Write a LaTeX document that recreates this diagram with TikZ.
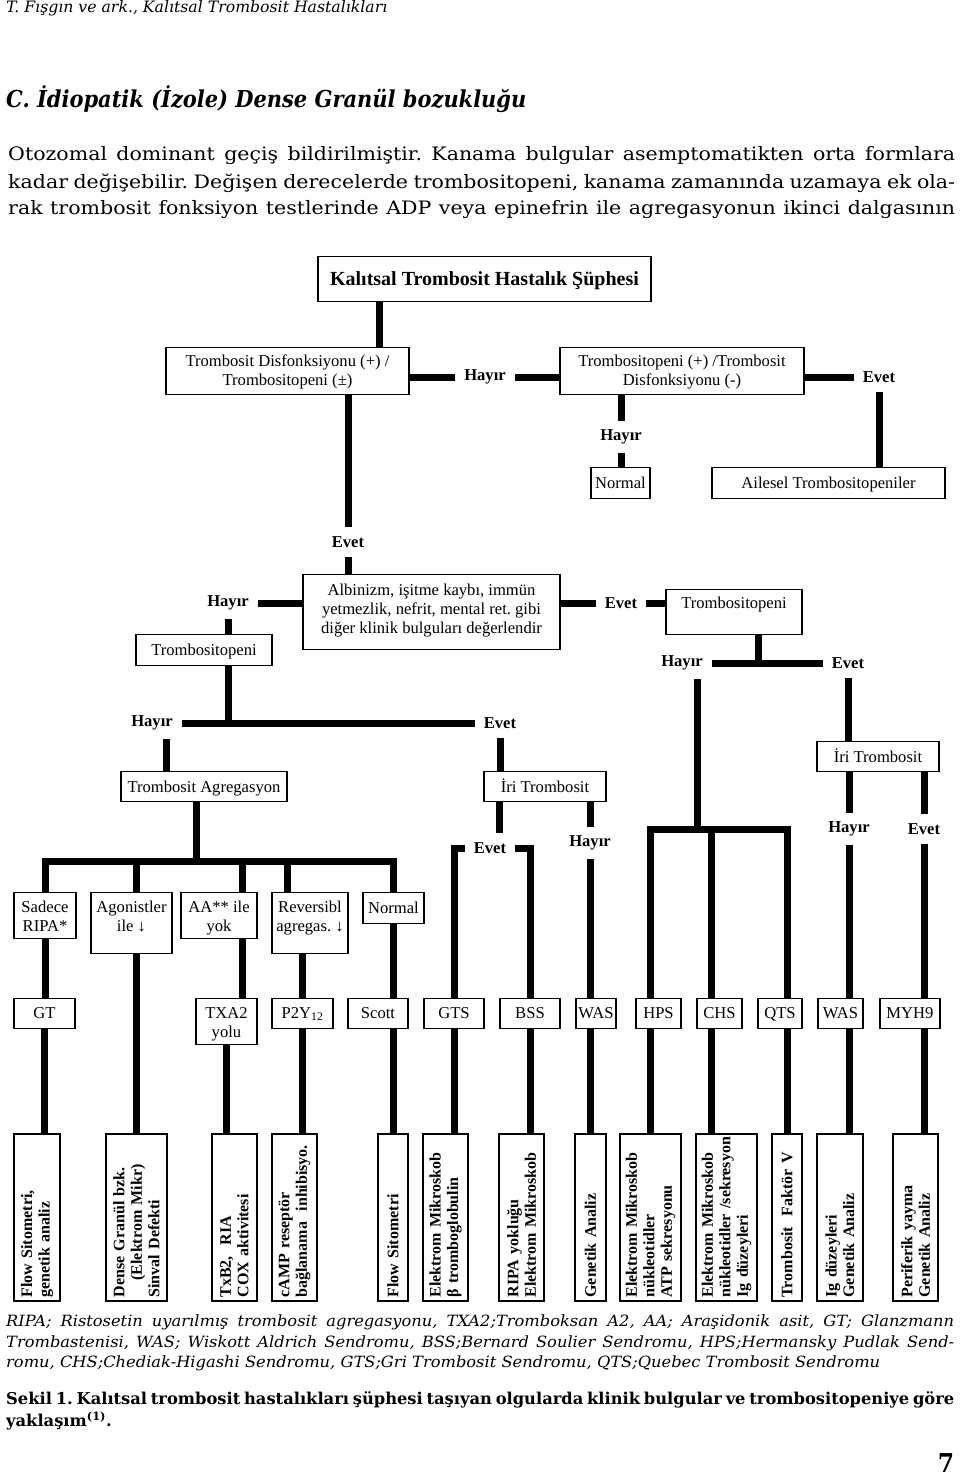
\documentclass[tikz,border=0pt]{standalone}
\usepackage{fontspec}
\setmainfont{Liberation Serif}
\newfontfamily\slab{DejaVu Serif}
\newfontfamily\slabwide{DejaVu Serif}[FakeStretch=1.11]
\newfontfamily\slabnote{DejaVu Serif}[FakeStretch=1.05]
\newfontfamily\slabhead{DejaVu Serif}[FakeStretch=0.9]
\usetikzlibrary{positioning}
\frenchspacing

\newcommand{\boxfont}{\fontsize{16.6}{19.5}\selectfont}
\newcommand{\testfont}{\fontsize{16}{17.5}\selectfont\bfseries}

\begin{document}
\begin{tikzpicture}[
    x=1pt, y=-1pt,
    box/.style={draw, line width=1.2pt, font=\boxfont, inner xsep=2pt, inner ysep=0pt, align=center, anchor=north},
    testbox/.style={draw, line width=1.2pt, font=\testfont, rotate=90, align=left, text width=160pt, minimum width=167pt, inner xsep=3.5pt, inner ysep=0pt},
    answer/.style={font=\boxfont\bfseries, inner sep=9pt},
    bar/.style={line width=7pt},
    textline/.style={anchor=west, inner sep=0pt}
]

% Page
\path[fill=white] (0,0) rectangle (960,1476);

% Running head, heading and paragraph
\node[textline, font=\slab\itshape\fontsize{15.7}{18}\selectfont] (runhead) at (6,8) {T. Fışgın ve ark., Kalıtsal Trombosit Hastalıkları};
\node[textline, font=\slabhead\bfseries\itshape\fontsize{23.3}{28}\selectfont] (title) at (6,99) {C. İdiopatik (İzole) Dense Granül bozukluğu};
\node[textline, font=\slabwide\fontsize{18.5}{27}\selectfont] (para1) at (8,156) {\makebox[947pt][s]{Otozomal dominant geçiş bildirilmiştir. Kanama bulgular asemptomatikten orta formlara}};
\node[textline, font=\slabwide\fontsize{18.5}{27}\selectfont] (para2) at (8,183) {\makebox[947pt][s]{kadar değişebilir. Değişen derecelerde trombositopeni, kanama zamanında uzamaya ek ola-}};
\node[textline, font=\slabwide\fontsize{18.5}{27}\selectfont] (para3) at (8,210) {\makebox[947pt][s]{rak trombosit fonksiyon testlerinde ADP veya epinefrin ile agregasyonun ikinci dalgasının}};

% Column coordinates for the connectors
\coordinate (stem0) at (379,0);
\coordinate (stem1) at (758,0);
\coordinate (stem3) at (166,0);
\coordinate (tpbar) at (697,829);
\coordinate (chsline) at (711,829);
\coordinate (aggbar) at (196,861);
\coordinate (aaline) at (242,861);
\coordinate (revline) at (287,861);
\coordinate (irileft) at (499,0);

% First question
\node[box, font=\fontsize{20}{24}\selectfont\bfseries, minimum width=333pt, text height=28.5pt, text depth=16.5pt] (susp) at (484.5,256) {Kalıtsal Trombosit Hastalık Şüphesi};
\node[box, minimum width=243pt, text height=38pt, text depth=9pt] (dysf) at (287.5,347) {Trombosit Disfonksiyonu (+) /\\Trombositopeni (±)};
\node[box, minimum width=244pt, text height=38pt, text depth=9pt] (tpen) at (682,347) {Trombositopeni (+) /Trombosit\\Disfonksiyonu (-)};
\node[answer] (no1) at (485,377) {Hayır};
\node[answer] (yes1) at (879,377) {Evet};
\node[answer] (no2) at (621,437) {Hayır};
\node[box, minimum width=59pt, text height=20.5pt, text depth=10.5pt] (normal1) at (620.5,467) {Normal};
\node[box, minimum width=233pt, text height=20.5pt, text depth=10.5pt] (famil) at (828.5,467) {Ailesel Trombositopeniler};

% Clinical findings
\node[answer] (yes2) at (348,542) {Evet};
\node[box, font=\fontsize{16.6}{19}\selectfont, minimum width=257pt, text height=58.5pt, text depth=16.5pt] (clin) at (431.5,574) {Albinizm, işitme kaybı, immün\\yetmezlik, nefrit, mental ret. gibi\\diğer klinik bulguları değerlendir};
\node[answer] (no3) at (228,603) {Hayır};
\node[box, minimum width=136pt, text height=21pt, text depth=10pt] (tp2) at (204,634) {Trombositopeni};
\node[answer] (yes3) at (621,603) {Evet};
\node[box, minimum width=136pt, text height=18.5pt, text depth=26.5pt] (tp3) at (734,589) {Trombositopeni};
\node[answer] (no4) at (682,663) {Hayır};
\node[answer] (yes4) at (848,663) {Evet};

% Aggregation and platelet size
\node[answer] (no5) at (152,723) {Hayır};
\node[answer] (yes5) at (500,723) {Evet};
\node[box, minimum width=166pt, text height=20.5pt, text depth=9.5pt] (agg) at (204,771) {Trombosit Agregasyon};
\node[box, minimum width=122pt, text height=20.5pt, text depth=9.5pt] (large1) at (545,771) {İri Trombosit};
\node[box, minimum width=122pt, text height=20.5pt, text depth=9.5pt] (large2) at (878,741) {İri Trombosit};
\node[answer] (yes6) at (490,848) {Evet};
\node[answer] (no6) at (590,843) {Hayır};
\node[answer] (no7) at (849,829) {Hayır};
\node[answer] (yes7) at (924,829) {Evet};

% Aggregation results
\node[box, minimum width=62pt, text height=39pt, text depth=7pt] (ripa) at (45,892) {Sadece\\RIPA*};
\node[box, minimum width=81pt, text height=39pt, text depth=22pt] (agon) at (131.5,892) {Agonistler\\ile ↓};
\node[box, minimum width=76pt, text height=39pt, text depth=7pt] (aa) at (219,892) {AA** ile\\yok};
\node[box, minimum width=76pt, text height=39pt, text depth=22pt] (rev) at (310,892) {Reversibl\\agregas. ↓};
\node[box, minimum width=61pt, text height=20.5pt, text depth=10.5pt] (norm2) at (393.5,892) {Normal};

% Diseases
\node[box, minimum width=61pt, text height=19.5pt, text depth=10.5pt] (gt) at (44.5,998) {GT};
\node[box, minimum width=61pt, text height=39pt, text depth=7pt] (txa) at (226.5,998) {TXA2\\yolu};
\node[box, minimum width=61pt, text height=19.5pt, text depth=10.5pt] (p2y) at (302.5,998) {P2Y\textsubscript{12}};
\node[box, minimum width=60pt, text height=19.5pt, text depth=10.5pt] (scott) at (378,998) {Scott};
\node[box, minimum width=60pt, text height=19.5pt, text depth=10.5pt] (gts) at (454,998) {GTS};
\node[box, minimum width=60pt, text height=19.5pt, text depth=10.5pt] (bss) at (530,998) {BSS};
\node[box, minimum width=40pt, text height=19.5pt, text depth=10.5pt] (was1) at (596,998) {WAS};
\node[box, minimum width=45pt, text height=19.5pt, text depth=10.5pt] (hps) at (658.5,998) {HPS};
\node[box, minimum width=45pt, text height=19.5pt, text depth=10.5pt] (chs) at (719.5,998) {CHS};
\node[box, minimum width=44pt, text height=19.5pt, text depth=10.5pt] (qts) at (780,998) {QTS};
\node[box, minimum width=45pt, text height=19.5pt, text depth=10.5pt] (was2) at (840.5,998) {WAS};
\node[box, minimum width=60pt, text height=19.5pt, text depth=10.5pt] (myh) at (910,998) {MYH9};

% Tests
\node[testbox, minimum height=46pt] (c1) at (37,1217.5) {Flow Sitometri,\\genetik analiz};
\node[testbox, minimum height=61pt] (c2) at (136.5,1217.5) {Dense Granül bzk.\\\hspace*{17pt}(Elektrom Mikr)\\Sinval Defekti};
\node[testbox, minimum height=45pt] (c3) at (234.5,1217.5) {TxB2,\ \ RIA\\COX aktivitesi};
\node[testbox, minimum height=45pt] (c4) at (294.5,1217.5) {cAMP reseptör\\bağlanama\ \ inhibisyo.};
\node[testbox, minimum height=30pt] (c5) at (393,1217.5) {Flow Sitometri};
\node[testbox, minimum height=45pt] (c6) at (445.5,1217.5) {Elektrom Mikroskob\\β tromboglobulin};
\node[testbox, minimum height=45pt] (c7) at (521.5,1217.5) {RIPA yokluğu\\Elektrom Mikroskob};
\node[testbox, minimum height=31pt] (c8) at (590.5,1217.5) {Genetik Analiz};
\node[testbox, minimum height=61pt] (c9) at (650.5,1217.5) {Elektrom Mikroskob\\nükleotidler\\ATP sekresyonu};
\node[testbox, minimum height=61pt] (c10) at (726.5,1217.5) {Elektrom Mikroskob\\\mbox{nükleotidler /sekresyon}\\Ig düzeyleri};
\node[testbox, minimum height=30pt] (c11) at (787,1217.5) {Trombosit\ \ Faktör V};
\node[testbox, minimum height=46pt] (c12) at (840,1217.5) {Ig düzeyleri\\Genetik Analiz};
\node[testbox, minimum height=45pt] (c13) at (915.5,1217.5) {Periferik yayma\\Genetik Analiz};

% Connectors, top part
\draw[bar] (stem0 |- susp.south) -- (stem0 |- dysf.north);
\draw[bar] (dysf.east |- no1) -- (no1.west);
\draw[bar] (no1.east) -- (no1 -| tpen.west);
\draw[bar] (tpen.east |- yes1) -- (yes1.west);
\draw[bar] (no2 |- tpen.south) -- (no2.north);
\draw[bar] (no2.south) -- (no2 |- normal1.north);
\draw[bar] (yes1.south) -- (yes1 |- famil.north);
\draw[bar] (yes2 |- dysf.south) -- (yes2.north);
\draw[bar] (yes2.south) -- (yes2 |- clin.north);
\draw[bar] (no3.east) -- (no3 -| clin.west);
\draw[bar] (no3.south) -- (no3 |- tp2.north);
\draw[bar] (clin.east |- yes3) -- (yes3.west);
\draw[bar] (yes3.east) -- (yes3 -| tp3.west);
\draw[bar] (stem1 |- tp3.south) -- (stem1 |- no4);
\draw[bar] (no4.east) -- (yes4.west);
\draw[bar] (yes4.south) -- (yes4 |- large2.north);

% Connectors, middle part
\draw[bar] (no3 |- tp2.south) -- (no3 |- no5);
\draw[bar] (no5.east) -- (yes5.west);
\draw[bar] (stem3 |- no5.south) -- (stem3 |- agg.north);
\draw[bar] (yes5.south) -- (yes5 |- large1.north);
\draw[bar] (irileft |- large1.south) -- (irileft |- yes6.north);
\draw[bar] (yes6.west) -| (gts.north);
\draw[bar] (yes6.east) -| (bss.north);
\draw[bar] (no6 |- large1.south) -- (no6.north);
\draw[bar] (no6.south) -- (no6 |- was1.north);
\draw[bar] (tpbar |- no4.south) -- (tpbar);
\draw[bar] (c9 |- hps.north) |- (tpbar) -| (c11 |- qts.north);
\draw[bar] (chsline) -- (chsline |- chs.north);
\draw[bar] (no7 |- large2.south) -- (no7.north);
\draw[bar] (yes7 |- large2.south) -- (yes7.north);
\draw[bar] (no7.south) -- (no7 |- was2.north);
\draw[bar] (yes7.south) -- (yes7 |- myh.north);

% Connectors, aggregation
\draw[bar] (aggbar |- agg.south) -- (aggbar);
\draw[bar] (ripa.north) |- (aggbar) -| (norm2.north);
\draw[bar] (c2 |- aggbar) -- (c2 |- agon.north);
\draw[bar] (aaline) -- (aaline |- aa.north);
\draw[bar] (revline) -- (revline |- rev.north);
\draw[bar] (ripa.south) -- (ripa.south |- gt.north);
\draw[bar] (aaline |- aa.south) -- (aaline |- txa.north);
\draw[bar] (p2y |- rev.south) -- (p2y.north);
\draw[bar] (norm2.south) -- (norm2.south |- scott.north);

% Connectors down to the tests
\draw[bar] (gt.south) -- (gt.south |- c1.east);
\draw[bar] (c2.east |- agon.south) -- (c2.east);
\draw[bar] (txa.south) -- (txa.south |- c3.east);
\draw[bar] (p2y.south) -- (p2y.south |- c4.east);
\draw[bar] (c5.east |- scott.south) -- (c5.east);
\draw[bar] (gts.south) -- (gts.south |- c6.east);
\draw[bar] (bss.south) -- (bss.south |- c7.east);
\draw[bar] (c8.east |- was1.south) -- (c8.east);
\draw[bar] (c9.east |- hps.south) -- (c9.east);
\draw[bar] (chsline |- chs.south) -- (chsline |- c10.east);
\draw[bar] (c11.east |- qts.south) -- (c11.east);
\draw[bar] (no7 |- was2.south) -- (no7 |- c12.east);
\draw[bar] (yes7 |- myh.south) -- (yes7 |- c13.east);

% Footnote and caption
\node[textline, font=\slabnote\itshape\fontsize{15.5}{21}\selectfont] (note1) at (6,1322) {\makebox[948pt][s]{RIPA; Ristosetin uyarılmış trombosit agregasyonu, TXA2;Tromboksan A2, AA; Araşidonik asit, GT; Glanzmann}};
\node[textline, font=\slabnote\itshape\fontsize{15.5}{21}\selectfont] (note2) at (6,1343) {\makebox[948pt][s]{Trombastenisi, WAS; Wiskott Aldrich Sendromu, BSS;Bernard Soulier Sendromu, HPS;Hermansky Pudlak Send-}};
\node[textline, font=\slabnote\itshape\fontsize{15.5}{21}\selectfont] (note3) at (6,1363) {romu, CHS;Chediak-Higashi Sendromu, GTS;Gri Trombosit Sendromu, QTS;Quebec Trombosit Sendromu};
\node[textline, font=\slab\bfseries\fontsize{16.3}{21}\selectfont] (caption1) at (6,1400) {\makebox[948pt][s]{Sekil 1. Kalıtsal trombosit hastalıkları şüphesi taşıyan olgularda klinik bulgular ve trombositopeniye göre}};
\node[textline, font=\slab\bfseries\fontsize{16.3}{21}\selectfont] (caption2) at (6,1421) {yaklaşım\textsuperscript{(1)}.};
\node[font=\slabhead\bfseries\fontsize{26}{30}\selectfont, inner sep=0pt] (pageno) at (946,1463) {7};

\end{tikzpicture}
\end{document}
